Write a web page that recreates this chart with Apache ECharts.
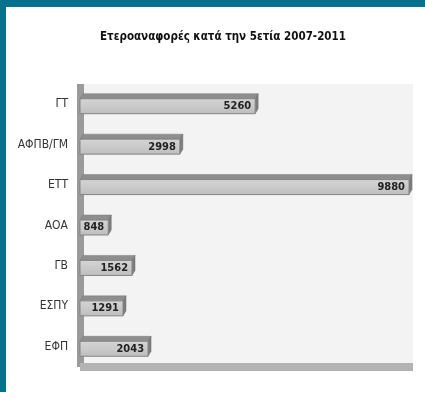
<!DOCTYPE html>
<html><head><meta charset="utf-8">
<script src="https://cdn.jsdelivr.net/npm/echarts@6/dist/echarts.min.js"></script>
<style>html,body{margin:0;padding:0;background:#fff}#c{width:425px;height:404px}</style>
</head><body><div id="c"></div>
<script>
const categories = ['ΓΤ', 'ΑΦΠΒ/ΓΜ', 'ΕΤΤ', 'ΑΟΑ', 'ΓΒ', 'ΕΣΠΥ', 'ΕΦΠ'];
const values = [5260, 2998, 9880, 848, 1562, 1291, 2043];
const titleText = 'Ετεροαναφορές κατά την 5ετία 2007-2011';
const FONT = '"DejaVu Sans Condensed","Liberation Sans Narrow","Liberation Sans",sans-serif';

const chart = echarts.init(document.getElementById('c'));
chart.setOption({
  backgroundColor: '#ffffff',
  animation: false,
  title: {
    text: titleText, left: 218, top: 26, textAlign: 'center',
    textStyle: { fontFamily: FONT, fontSize: 11.5, fontWeight: 'bold', color: '#111' }
  },
  graphic: [
    { type: 'rect', shape: { x: 0, y: 0, width: 425, height: 7 }, style: { fill: '#06718c' }, z: 100 },
    { type: 'rect', shape: { x: 0, y: 0, width: 6, height: 392 }, style: { fill: '#06718c' }, z: 100 }
  ],
  grid: { left: 80, right: 12, top: 84, bottom: 37, show: true, backgroundColor: '#f3f3f3', borderWidth: 0 },
  xAxis: {
    type: 'value', min: 0, max: 10000,
    axisLabel: { show: false }, splitLine: { show: false }, axisTick: { show: false },
    axisLine: { show: true, lineStyle: { color: '#b3b3b3', width: 8, cap: 'butt' } }
  },
  yAxis: {
    type: 'category', data: categories, inverse: true, offset: 3,
    axisTick: { show: false },
    axisLine: { show: true, lineStyle: { color: '#9a9a9a', width: 7, cap: 'butt' } },
    axisLabel: { margin: 9, fontFamily: FONT, fontSize: 12, color: '#333' }
  },
  series: [{
    type: 'custom',
    data: values.map((v, i) => [v, i]),
    encode: { x: 0, y: 1 },
    renderItem: function (params, api) {
      const v = api.value(0), c = api.value(1);
      const p0 = api.coord([0, c]);
      const p1 = api.coord([v, c]);
      const h = 15, dx = 3, dy = 5;
      const x0 = p0[0], x1 = p1[0];
      const top = p0[1] - h / 2 + 2;
      const bot = top + h;
      return {
        type: 'group',
        children: [
          { type: 'polygon', shape: { points: [[x0, top], [x1, top], [x1 + dx, top - dy], [x0 + dx, top - dy]] },
            style: { fill: '#8e8e8e', stroke: '#7a7a7a', lineWidth: 0.5 } },
          { type: 'polygon', shape: { points: [[x1, top], [x1 + dx, top - dy], [x1 + dx, bot - dy], [x1, bot]] },
            style: { fill: '#7d7d7d', stroke: '#6e6e6e', lineWidth: 0.5 } },
          { type: 'rect', shape: { x: x0, y: top, width: x1 - x0, height: h },
            style: { fill: new echarts.graphic.LinearGradient(0, 0, 0, 1, [
              { offset: 0, color: '#d4d4d4' }, { offset: 0.5, color: '#cacaca' }, { offset: 1, color: '#bdbdbd' }]),
              stroke: '#858585', lineWidth: 1 } },
          { type: 'text', style: { text: String(v), x: x1 - 4, y: top + h / 2, align: 'right', verticalAlign: 'middle',
              fontFamily: FONT, fontSize: 11, fontWeight: 'bold', fill: '#222' } }
        ]
      };
    }
  }]
});
</script></body></html>
